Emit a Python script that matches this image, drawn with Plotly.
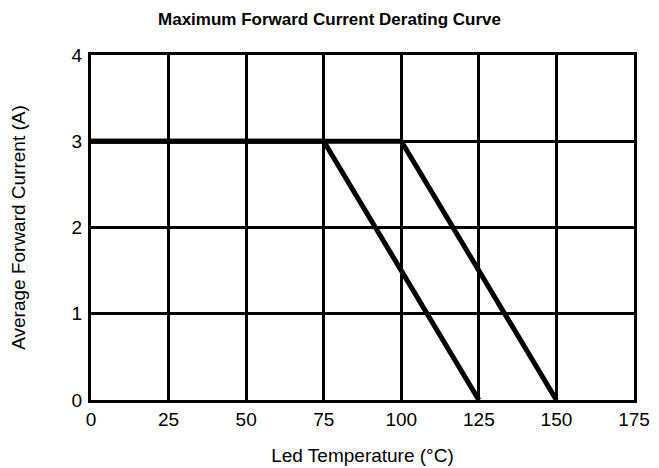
import plotly.graph_objects as go

temp_a = [0, 75, 125]
current_a = [3, 3, 0]
temp_b = [0, 100, 150]
current_b = [3, 3, 0]
x_ticks = [0, 25, 50, 75, 100, 125, 150, 175]
y_ticks = [0, 1, 2, 3, 4]

font_fam = "Liberation Sans, Arial, sans-serif"

fig = go.Figure()
for xs, ys in [(temp_a, current_a), (temp_b, current_b)]:
    fig.add_trace(go.Scatter(x=xs, y=ys, mode="lines",
                             line=dict(color="black", width=5),
                             showlegend=False, hoverinfo="skip"))

fig.update_layout(
    width=659, height=468,
    margin=dict(l=91, r=25, t=55, b=68, autoexpand=False),
    paper_bgcolor="white", plot_bgcolor="white",
    title=dict(text="<b>Maximum Forward Current Derating Curve</b>",
               x=0.5, xanchor="center", y=0.96, yanchor="middle",
               font=dict(family=font_fam, size=17, color="black")),
    font=dict(family=font_fam, color="black"),
)
fig.update_xaxes(range=[0, 175], tickvals=x_ticks, ticktext=[str(v) for v in x_ticks],
                 showgrid=True, gridcolor="black", gridwidth=3,
                 showline=True, linecolor="black", linewidth=3, mirror=True,
                 zeroline=False, ticks="", ticklabelstandoff=0, automargin=False,
                 tickfont=dict(size=19, family=font_fam),
                 title=dict(text="Led Temperature (°C)", standoff=20,
                            font=dict(size=19, family=font_fam)))
fig.update_yaxes(range=[0, 4], tickvals=y_ticks, ticktext=[str(v) for v in y_ticks],
                 showgrid=True, gridcolor="black", gridwidth=3,
                 showline=True, linecolor="black", linewidth=3, mirror=True,
                 zeroline=False, ticks="", ticklabelstandoff=2, automargin=False,
                 tickfont=dict(size=19, family=font_fam),
                 title=dict(text="Average Forward Current (A)", standoff=41,
                            font=dict(size=19, family=font_fam)))

fig.write_html("out.html")
